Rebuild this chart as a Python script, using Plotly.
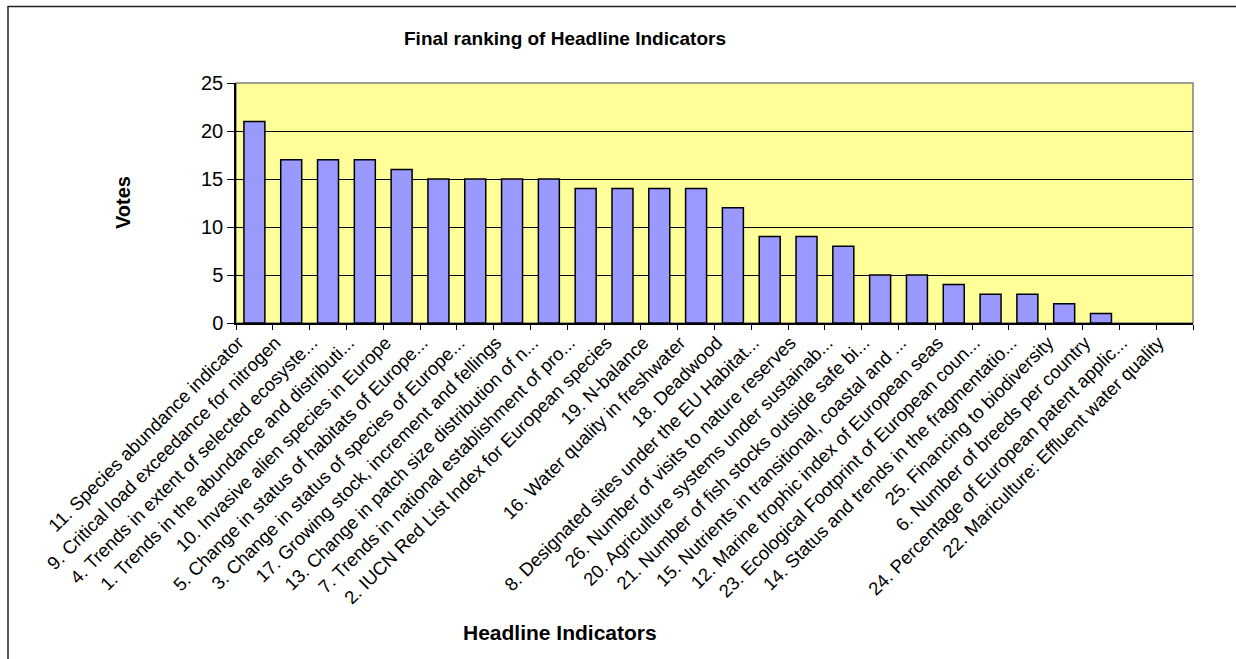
import plotly.graph_objects as go

categories = [
    "11. Species abundance indicator",
    "9. Critical load exceedance for nitrogen",
    "4. Trends in extent of selected ecosyste...",
    "1. Trends in the abundance and distributi...",
    "10. Invasive alien species in Europe",
    "5. Change in status of habitats of Europe...",
    "3. Change in status of species of Europe...",
    "17. Growing stock, increment and fellings",
    "13. Change in patch size distribution of n...",
    "7. Trends in national establishment of pro...",
    "2. IUCN Red List Index for European species",
    "19. N-balance",
    "16. Water quality in freshwater",
    "18. Deadwood",
    "8. Designated sites under the EU Habitat...",
    "26. Number of visits to nature reserves",
    "20. Agriculture systems under sustainab...",
    "21. Number of fish stocks outside safe bi...",
    "15. Nutrients in transitional, coastal and ...",
    "12. Marine trophic index of European seas",
    "23. Ecological Footprint of European coun...",
    "14. Status and trends in the fragmentatio...",
    "25. Financing to biodiversity",
    "6. Number of breeds per country",
    "24. Percentage of European patent applic...",
    "22. Mariculture: Effluent water quality",
]
votes = [21, 17, 17, 17, 16, 15, 15, 15, 15, 14, 14, 14, 14, 12, 9, 9, 8, 5, 5, 4, 3, 3, 2, 1, 0, 0]
y_ticks = [0, 5, 10, 15, 20, 25]

FONT = "Liberation Sans, Arial, sans-serif"
W, H = 1236, 659
L, R, T, B = 236, 43, 83, 336
pw = W - L - R
ph = H - T - B

def px_to_paper_x(px):
    return (px - L) / pw

def px_to_paper_y(py):
    return (H - B - py) / ph

fig = go.Figure()
fig.add_trace(go.Bar(
    x=categories, y=votes,
    marker=dict(color="#9999FF",
                line=dict(color="black", width=[1.5 if v > 0 else 0 for v in votes])),
    showlegend=False,
))

fig.update_layout(
    width=W, height=H,
    margin=dict(l=L, r=R, t=T, b=B, autoexpand=False),
    paper_bgcolor="white",
    plot_bgcolor="#FFFF99",
    bargap=0.43,
    font=dict(family=FONT, color="black"),
    title=dict(
        text="<b>Final ranking of Headline Indicators</b>",
        font=dict(family=FONT, size=19, color="black"),
        xref="container", x=565 / W, xanchor="center",
        yref="container", y=1 - 38 / H, yanchor="middle",
    ),
    xaxis=dict(
        type="category",
        tickangle=-45,
        tickfont=dict(family=FONT, size=18.5, color="black"),
        ticks="outside", ticklen=5, tickcolor="black", tickwidth=1,
        tickson="boundaries",
        ticklabelshift=-16,
        showline=True, linecolor="black", linewidth=1.5,
        showgrid=False, automargin=False,
        range=[-0.5, len(categories) - 0.5],
    ),
    yaxis=dict(
        range=[0, 25],
        tickvals=y_ticks,
        tickfont=dict(family=FONT, size=20, color="black"),
        ticks="outside", ticklen=7, tickcolor="black", tickwidth=1,
        showline=True, linecolor="black", linewidth=1.5,
        showgrid=True, gridcolor="black", gridwidth=1,
        zeroline=False, automargin=False,
    ),
    shapes=[
        dict(type="rect", xref="paper", yref="paper", x0=0, x1=1, y0=0, y1=1,
             line=dict(color="#808080", width=1.5), fillcolor="rgba(0,0,0,0)", layer="below"),
        dict(type="rect", xref="paper", yref="paper",
             x0=px_to_paper_x(8), x1=px_to_paper_x(W + 10),
             y0=px_to_paper_y(H + 10), y1=px_to_paper_y(6.5),
             line=dict(color="#222222", width=1.5), fillcolor="rgba(0,0,0,0)"),
    ],
    annotations=[
        dict(text="<b>Headline Indicators</b>", xref="paper", yref="paper",
             x=px_to_paper_x(560), y=px_to_paper_y(632), xanchor="center", yanchor="middle",
             showarrow=False, font=dict(family=FONT, size=21, color="black")),
        dict(text="<b>Votes</b>", xref="paper", yref="paper",
             x=px_to_paper_x(123), y=px_to_paper_y(203), xanchor="center", yanchor="middle",
             textangle=-90, showarrow=False, font=dict(family=FONT, size=20, color="black")),
    ],
)

fig.write_html("out.html", config={"displayModeBar": False},
               post_script="document.body.style.margin='0';")
